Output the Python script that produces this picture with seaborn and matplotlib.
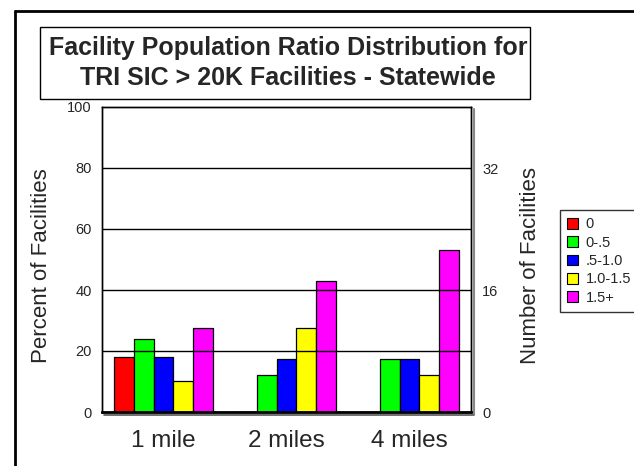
import matplotlib
matplotlib.use("Agg")
import matplotlib.pyplot as plt
import seaborn as sns
import pandas as pd
from matplotlib.lines import Line2D
from matplotlib.patches import Rectangle, Patch

distances = ["1 mile", "2 miles", "4 miles"]
ratio_groups = ["0", "0-.5", ".5-1.0", "1.0-1.5", "1.5+"]
pct_1mile = [18.0, 24.0, 18.0, 10.3, 27.6]
pct_2miles = [0.0, 12.0, 17.3, 27.6, 43.0]
pct_4miles = [0.0, 17.3, 17.3, 12.0, 53.0]
colors = ["#FF0000", "#00FF00", "#0000FF", "#FFFF00", "#FF00FF"]
left_ticks = [0, 20, 40, 60, 80, 100]
right_ticks = [0, 16, 32]

rows = []
for d, vals in zip(distances, [pct_1mile, pct_2miles, pct_4miles]):
    for r, v in zip(ratio_groups, vals):
        rows.append({"distance": d, "ratio": r, "percent": v})
df = pd.DataFrame(rows)

sns.set_theme(style="white")
plt.rcParams["font.family"] = ["Liberation Sans", "DejaVu Sans"]

W, H = 634, 466
fig = plt.figure(figsize=(W / 100, H / 100), dpi=100)
fig.patch.set_facecolor("white")

ax = fig.add_axes([102 / W, 1 - 412 / H, (471 - 102) / W, (412 - 107) / H])
sns.barplot(data=df, x="distance", y="percent", hue="ratio", order=distances,
            hue_order=ratio_groups, palette=colors, edgecolor="black",
            linewidth=0.9, saturation=1, ax=ax, legend=False, zorder=2)
ax.set_xlim(-0.5, 2.5)
ax.set_ylim(0, 100)
ax.set_yticks(left_ticks)
ax.set_yticklabels([str(t) for t in left_ticks], fontsize=10.5)
ax.tick_params(axis="y", length=0, pad=7.5)
ax.tick_params(axis="x", direction="in", length=7, width=1, color="black",
               labelsize=17.5, pad=13)
for y in left_ticks[1:-1]:
    ax.axhline(y, color="black", linewidth=1, zorder=3)
ax.set_xlabel("")
ax.set_ylabel("")
for s in ax.spines.values():
    s.set_color("black")
    s.set_linewidth(1)
ax.spines["bottom"].set_linewidth(2)
ax.set_axisbelow(False)
for t in ax.xaxis.get_major_ticks():
    t.tick1line.set_zorder(5)

ax2 = ax.twinx()
ax2.set_ylim(0, 40)
ax2.set_yticks(right_ticks)
ax2.set_yticklabels([str(t) for t in right_ticks], fontsize=10.5)
ax2.tick_params(axis="y", length=0, pad=8)
ax2.set_ylabel("")
for s in ax2.spines.values():
    s.set_color("black")
    s.set_linewidth(1)

fig.text(41.5 / W, 1 - 266 / H, "Percent of Facilities", rotation=90,
         ha="center", va="center", fontsize=16)
fig.text(530 / W, 1 - 265 / H, "Number of Facilities", rotation=90,
         ha="center", va="center", fontsize=16)

# shadow lines of the plot frame
fig.add_artist(Line2D([473.5 / W, 473.5 / W], [1 - 109 / H, 1 - 414 / H],
                      color="#888888", linewidth=1.5))
fig.add_artist(Line2D([104 / W, 473.5 / W], [1 - 414.5 / H, 1 - 414.5 / H],
                      color="#555555", linewidth=1.2))

# outer frame
fig.add_artist(Line2D([15 / W, 15 / W], [0, 1 - 11 / H], color="black", linewidth=2))
fig.add_artist(Line2D([15 / W, 1], [1 - 11 / H, 1 - 11 / H], color="black", linewidth=2))

# title box
fig.add_artist(Rectangle((40 / W, 1 - 99 / H), (530 - 40) / W, (99 - 27) / H,
                         transform=fig.transFigure, facecolor="white",
                         edgecolor="black", linewidth=1))
fig.text(288 / W, 1 - 55 / H, "Facility Population Ratio Distribution for",
         ha="center", va="baseline", fontsize=18, fontweight="bold")
fig.text(288 / W, 1 - 85 / H, "TRI SIC > 20K Facilities - Statewide",
         ha="center", va="baseline", fontsize=18, fontweight="bold")

handles = [Patch(facecolor=c, edgecolor="black", linewidth=0.8) for c in colors]
leg = fig.legend(handles, ratio_groups, loc="upper left",
                 bbox_to_anchor=(560 / W, 1 - 210 / H), fontsize=10.5,
                 frameon=True, fancybox=False, edgecolor="black",
                 handlelength=0.75, handleheight=0.75, handletextpad=0.5,
                 labelspacing=0.3, borderpad=0.5, borderaxespad=0)
leg.get_frame().set_linewidth(1)

fig.savefig("out.png", dpi=100)
